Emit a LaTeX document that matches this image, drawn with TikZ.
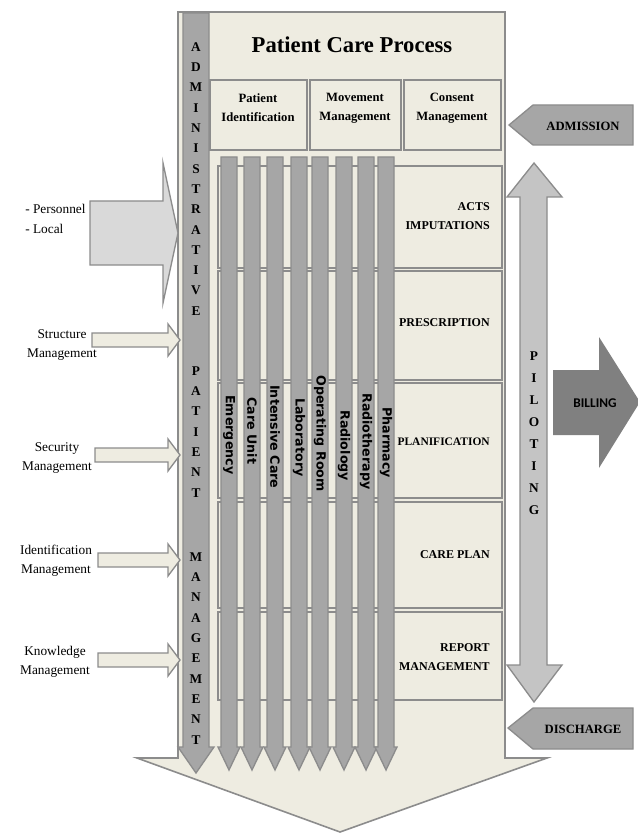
\documentclass[tikz,border=0pt]{standalone}
\usepackage{fontspec}
\setmainfont{Liberation Serif}
\newfontfamily\labelfont{DejaVu Sans}
\newfontfamily\billfont{Carlito}
\definecolor{paper}{HTML}{EEECE1}
\definecolor{edge}{HTML}{8C8C8C}
\definecolor{bar}{HTML}{A6A6A6}
\definecolor{pale}{HTML}{D9D9D9}
\definecolor{pilot}{HTML}{C4C4C4}
\definecolor{dark}{HTML}{808080}

\begin{document}
\begin{tikzpicture}%
  [x=0.75pt,y=-0.75pt,
   panel/.style={draw=edge,fill=paper,line width=1.4pt},
   blockarrow/.style={draw=edge,line width=1pt}]
  \tikzstyle{head text}=[font=\bfseries\fontsize{9.5}{14}\selectfont,align=center,inner sep=0]
  \tikzstyle{row text}=[font=\bfseries\fontsize{9}{14}\selectfont,align=right,anchor=east,inner sep=0]
  \tikzstyle{side text}=[font=\fontsize{10}{14.5}\selectfont,align=center,inner sep=0]
  \tikzstyle{letter}=[font=\bfseries\fontsize{10}{10}\selectfont,inner sep=0]
  \tikzstyle{unit label}=[font=\labelfont\bfseries\fontsize{9.5}{9.5}\selectfont,rotate=-90,anchor=west,inner sep=0]
  \useasboundingbox (0,0) rectangle (637,834);
  % big frame arrow
  \draw[panel,line width=1.2pt] (178,12) -- (505,12) -- (505,758) -- (547,758)
    -- (340,832) -- (137,758) -- (178,758) -- cycle;
  \node[head text,font=\bfseries\fontsize{17}{17}\selectfont] (title) at (352,45) {Patient Care Process};
  % top boxes
  \draw[panel] (210,80) rectangle (307,150);
  \draw[panel] (310,80) rectangle (401,150);
  \draw[panel] (404,80) rectangle (501,150);
  \node[head text] (ident) at (258,108) {Patient\\Identification};
  \node[head text] (move) at (355,108) {Movement\\Management};
  \node[head text] (consent) at (452,108) {Consent\\Management};
  % rows
  \foreach \t/\b in {166/268,271/380,383/498,502/608,612/700}
    \draw[panel] (218,\t) rectangle (502,\b);
  \node[row text] (acts) at (490,216) {ACTS\\IMPUTATIONS};
  \node[row text] (presc) at (490,323) {PRESCRIPTION};
  \node[row text,font=\bfseries\fontsize{8.6}{14}\selectfont] (planif) at (490,442) {PLANIFICATION};
  \node[row text] (careplan) at (490,555) {CARE PLAN};
  \node[row text] (report) at (490,657) {REPORT\\MANAGEMENT};
  % units
  \foreach \c/\t/\s [count=\i] in {229/Emergency/395,252/Care Unit/397,
      275/Intensive Care/385,299/Laboratory/398,320/Operating Room/375,
      344/Radiology/410,366/Radiotherapy/393,386/Pharmacy/407}{
    \draw[blockarrow,fill=bar] (\c-8,157) -- (\c+8,157) -- (\c+8,747) -- (\c+11,747)
      -- (\c,770) -- (\c-11,747) -- (\c-8,747) -- cycle;
    \node[unit label] (unit\i) at (\c,\s) {\t};
  }
  % administrative patient management
  \draw[blockarrow,fill=bar] (183,13) -- (209,13) -- (209,747) -- (214,747)
    -- (196,773) -- (178,747) -- (183,747) -- cycle;
  \foreach \l [count=\i from 0] in {A,D,M,I,N,I,S,T,R,A,T,I,V,E}
    \node[letter] (adm\i) at (196,47+20.3*\i) {\l};
  \foreach \l [count=\i from 0] in {P,A,T,I,E,N,T}
    \node[letter] (pat\i) at (196,371+20.3*\i) {\l};
  \foreach \l [count=\i from 0] in {M,A,N,A,G,E,M,E,N,T}
    \node[letter] (man\i) at (196,557+20.3*\i) {\l};
  % left inputs
  \draw[blockarrow,fill=pale] (90,201) -- (163,201) -- (163,163) -- (178,233)
    -- (163,303) -- (163,265) -- (90,265) -- cycle;
  \node[side text,align=left,anchor=west] (pers) at (25,219) {- Personnel\\- Local};
  \foreach \y/\x in {340/92,455/95,560/98,660/98}
    \draw[blockarrow,fill=paper] (\x,\y-7) -- (168,\y-7) -- (168,\y-16) -- (180,\y)
      -- (168,\y+16) -- (168,\y+7) -- (\x,\y+7) -- cycle;
  \node[side text] (struct) at (62,345) {Structure\\Management};
  \node[side text] (secu) at (57,458) {Security\\Management};
  \node[side text] (identm) at (56,561) {Identification\\Management};
  \node[side text] (know) at (55,662) {Knowledge\\Management};
  % right side
  \draw[blockarrow,fill=bar] (509,125) -- (533,105) -- (633,105) -- (633,145)
    -- (533,145) -- cycle;
  \node[head text,font=\bfseries\fontsize{9.5}{9.5}\selectfont] (admission) at (583,126) {ADMISSION};
  \draw[blockarrow,fill=bar] (508,728) -- (533,708) -- (633,708) -- (633,749)
    -- (533,749) -- cycle;
  \node[head text,font=\bfseries\fontsize{9.5}{9.5}\selectfont] (discharge) at (583,729) {DISCHARGE};
  \draw[blockarrow,fill=pilot] (534,163) -- (562,197) -- (547,197) -- (547,665)
    -- (562,665) -- (534,702) -- (507,665) -- (520,665) -- (520,197) -- (507,197) -- cycle;
  \foreach \l [count=\i from 0] in {P,I,L,O,T,I,N,G}
    \node[letter] (pil\i) at (534,356+22*\i) {\l};
  \fill[dark] (553,370) -- (599,370) -- (599,337) -- (640,402) -- (599,468)
    -- (599,435) -- (553,435) -- cycle;
  \node[font=\billfont\bfseries\fontsize{10}{10}\selectfont,inner sep=0] (billing) at (595,403) {BILLING};
\end{tikzpicture}
\end{document}
